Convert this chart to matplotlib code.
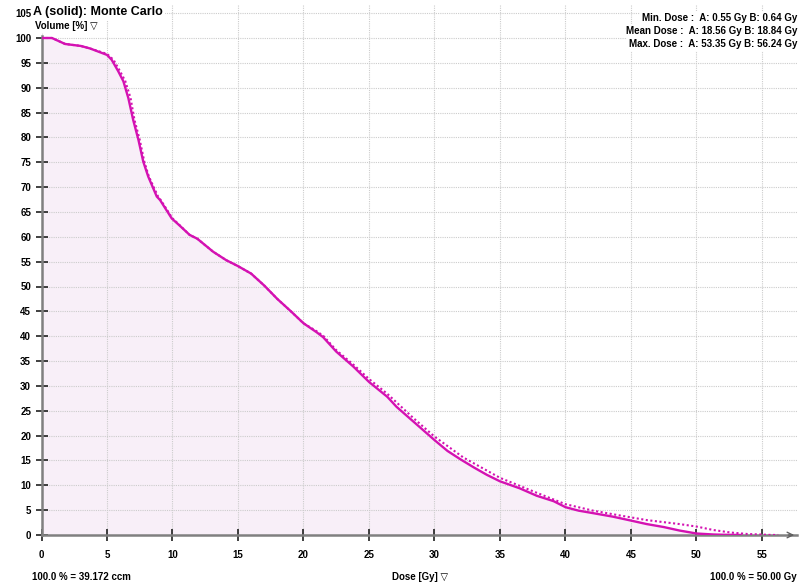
import matplotlib
matplotlib.use("Agg")
import matplotlib.pyplot as plt
import numpy as np

# ---- data ----
dose_a = [0, 0.8, 1.8, 3.0, 3.7, 5.0, 5.36, 5.86, 6.25, 6.63, 7.0, 7.4, 7.77, 8.15,
          8.8, 9.05, 9.94, 10.57, 11.3, 11.9, 13.1, 14.1, 15.0, 16.0, 17.0, 18.0,
          19.0, 20.0, 21.0, 21.5, 22.5, 23.8, 25.0, 26.4, 27.1, 28.4, 30.0, 31.0,
          32.0, 33.0, 34.0, 35.0, 36.5, 37.8, 39.1, 40.0, 41.0, 42.1, 43.6, 45.0,
          46.2, 47.5, 48.7, 50.0, 51.3, 52.0, 53.35]
vol_a = [100, 100, 98.8, 98.4, 97.9, 96.6, 95.6, 93.3, 91.3, 87.9, 83.5, 79.5, 75.1,
         72.1, 68.1, 67.4, 63.7, 62.2, 60.4, 59.6, 57.0, 55.3, 54.1, 52.6, 50.2, 47.5,
         45.1, 42.6, 40.8, 39.8, 36.9, 33.9, 30.8, 27.8, 25.8, 22.8, 19.1, 16.9,
         15.2, 13.6, 12.1, 10.8, 9.4, 7.9, 6.8, 5.6, 4.9, 4.4, 3.7, 2.9, 2.2, 1.6,
         0.9, 0.3, 0.1, 0.05, 0.0]

dose_b = [0, 0.8, 1.8, 3.0, 3.7, 5.0, 5.5, 6.0, 6.4, 6.8, 7.1, 7.5, 7.85, 8.2, 8.9,
          9.1, 10.0, 10.6, 11.3, 11.9, 13.1, 14.1, 15.0, 16.0, 17.0, 18.0, 19.0, 20.0,
          21.0, 21.5, 22.5, 23.8, 25.0, 26.4, 28.4, 30.0, 32.2, 35.0, 37.8, 40.0, 42.1,
          44.0, 46.2, 48.7, 50.0, 51.3, 52.6, 53.9, 55.6, 56.24]
vol_b = [100, 100, 98.8, 98.4, 97.9, 96.8, 95.6, 93.3, 91.3, 87.9, 83.5, 79.5, 75.1,
         72.1, 68.1, 67.4, 63.7, 62.2, 60.4, 59.6, 57.0, 55.3, 54.1, 52.6, 50.2, 47.5,
         45.1, 42.6, 41.0, 40.1, 37.2, 34.3, 31.4, 28.4, 23.5, 19.8, 15.6, 11.5, 8.5,
         6.2, 4.9, 4.0, 3.0, 2.2, 1.7, 1.0, 0.5, 0.2, 0.02, 0.0]

x_ticks = list(range(0, 60, 5))
y_ticks = list(range(0, 110, 5))

title = "A (solid): Monte Carlo"
ylabel = "Volume [%] \u25BD"
xlabel = "Dose [Gy] \u25BD"
left_note = "100.0 % = 39.172 ccm"
right_note = "100.0 % = 50.00 Gy"
stats = ["Min. Dose :  A: 0.55 Gy B: 0.64 Gy",
         "Mean Dose :  A: 18.56 Gy B: 18.84 Gy",
         "Max. Dose :  A: 53.35 Gy B: 56.24 Gy"]

FAM = ["Liberation Sans", "DejaVu Sans"]
plt.rcParams['font.family'] = FAM
plt.rcParams['font.weight'] = 'bold'

W, H = 799, 587
fig = plt.figure(figsize=(W / 100, H / 100), dpi=100)
x0, x1 = 41.5, 797
y0, ytop = 535, 5
ax = fig.add_axes([x0 / W, (H - y0) / H, (x1 - x0) / W, (y0 - ytop) / H])

xmax = (x1 - x0) / 13.1
ymax = (y0 - ytop) / 4.97
ax.set_xlim(0, xmax)
ax.set_ylim(0, ymax)

line_col = '#d412b2'
ax.fill_between(dose_a, vol_a, 0, color='#f8eff8', zorder=1)
ax.plot(dose_a, vol_a, color=line_col, lw=1.7, zorder=4)
ax.plot(dose_b, vol_b, color=line_col, lw=1.5, linestyle=(0, (1, 1.2)), zorder=3)

ax.set_xticks(x_ticks)
ax.set_yticks(y_ticks)
ax.grid(True, color='#cccccc', linestyle=(0, (1, 1)), lw=0.8, zorder=0)
ax.tick_params(direction='inout', length=9, width=1.2, color='#202020',
               labelsize=7, pad=6)
ax.tick_params(axis='y', pad=3)
for lab in ax.get_xticklabels() + ax.get_yticklabels():
    lab.set_fontweight('bold')

for s in ['top', 'right']:
    ax.spines[s].set_visible(False)
for s in ['left', 'bottom']:
    ax.spines[s].set_color('#808080')
    ax.spines[s].set_linewidth(1.8)
ax.spines['left'].set_bounds(0, 100.5)
ax.set_facecolor('white')

# arrow at end of x axis
ax.annotate('', xy=(1.0, 0), xytext=(0.985, 0), xycoords='axes fraction',
            arrowprops=dict(arrowstyle='->', color='#606060', lw=1.0))

bb = dict(facecolor='white', edgecolor='none', pad=1.5)
fig.text(33 / W, 1 - 12 / H, title, fontsize=9, fontweight='bold', va='center',
         ha='left', bbox=bb, zorder=10)
fig.text(35 / W, 1 - 26 / H, ylabel, fontsize=7, fontweight='bold', va='center',
         ha='left', bbox=bb, zorder=10)
for i, s in enumerate(stats):
    fig.text(797 / W, 1 - (18 + 13 * i) / H, s, fontsize=7, fontweight='bold',
             va='center', ha='right', bbox=bb, zorder=10)
fig.text(32 / W, 1 - 577 / H, left_note, fontsize=7, fontweight='bold', va='center', ha='left')
fig.text(420 / W, 1 - 577 / H, xlabel, fontsize=7, fontweight='bold', va='center', ha='center')
fig.text(797 / W, 1 - 577 / H, right_note, fontsize=7, fontweight='bold', va='center', ha='right')

fig.savefig('out.png', dpi=100)
